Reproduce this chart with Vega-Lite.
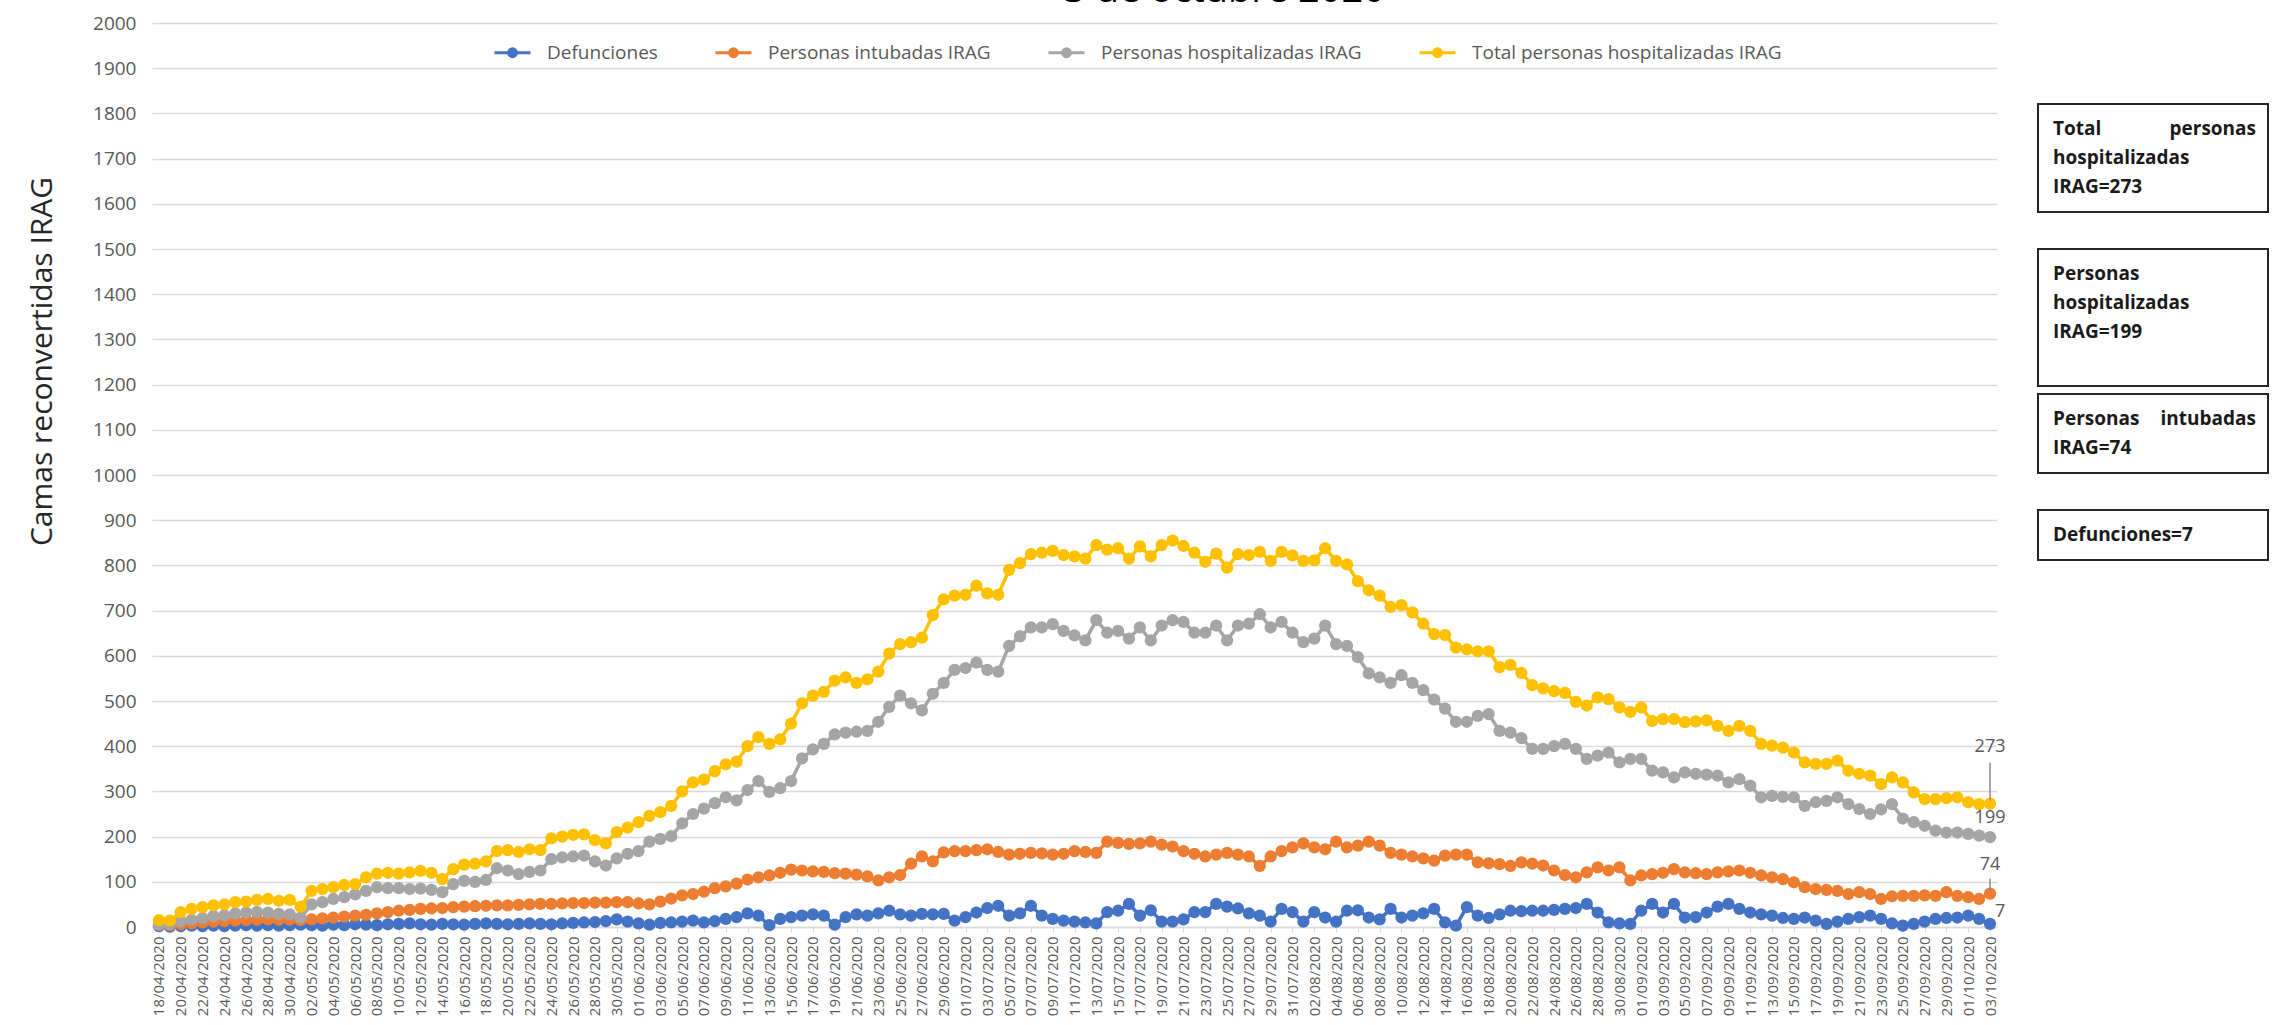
{
"$schema":"https://vega.github.io/schema/vega-lite/v6.json",
"width":1845,"height":904,
"autosize":{"type":"none"},
"padding":{"left":152,"top":23,"right":275,"bottom":98},
"background":"white",
"title":{"text":"3 de octubre 2020","font":"Open Sans","fontSize":38,"fontWeight":"normal","color":"#000000","anchor":"middle","offset":4,"dx":150},
"config":{"view":{"stroke":null},"font":"Open Sans"},
"datasets":{
"defunciones":[
{"fecha":"18/04/2020","valor":2},{"fecha":"19/04/2020","valor":1},{"fecha":"20/04/2020","valor":2},{"fecha":"21/04/2020","valor":3},{"fecha":"22/04/2020","valor":2},{"fecha":"23/04/2020","valor":3},{"fecha":"24/04/2020","valor":2},{"fecha":"25/04/2020","valor":3},{"fecha":"26/04/2020","valor":4},{"fecha":"27/04/2020","valor":3},{"fecha":"28/04/2020","valor":4},{"fecha":"29/04/2020","valor":3},{"fecha":"30/04/2020","valor":4},
{"fecha":"01/05/2020","valor":5},{"fecha":"02/05/2020","valor":4},{"fecha":"03/05/2020","valor":3},{"fecha":"04/05/2020","valor":5},{"fecha":"05/05/2020","valor":4},{"fecha":"06/05/2020","valor":6},{"fecha":"07/05/2020","valor":5},{"fecha":"08/05/2020","valor":4},{"fecha":"09/05/2020","valor":6},{"fecha":"10/05/2020","valor":7},{"fecha":"11/05/2020","valor":8},{"fecha":"12/05/2020","valor":6},{"fecha":"13/05/2020","valor":5},{"fecha":"14/05/2020","valor":7},{"fecha":"15/05/2020","valor":6},{"fecha":"16/05/2020","valor":5},{"fecha":"17/05/2020","valor":7},{"fecha":"18/05/2020","valor":8},{"fecha":"19/05/2020","valor":7},{"fecha":"20/05/2020","valor":6},{"fecha":"21/05/2020","valor":7},{"fecha":"22/05/2020","valor":8},{"fecha":"23/05/2020","valor":7},{"fecha":"24/05/2020","valor":6},{"fecha":"25/05/2020","valor":8},{"fecha":"26/05/2020","valor":9},{"fecha":"27/05/2020","valor":10},{"fecha":"28/05/2020","valor":11},{"fecha":"29/05/2020","valor":13},{"fecha":"30/05/2020","valor":17},{"fecha":"31/05/2020","valor":12},
{"fecha":"01/06/2020","valor":8},{"fecha":"02/06/2020","valor":5},{"fecha":"03/06/2020","valor":9},{"fecha":"04/06/2020","valor":10},{"fecha":"05/06/2020","valor":12},{"fecha":"06/06/2020","valor":14},{"fecha":"07/06/2020","valor":10},{"fecha":"08/06/2020","valor":13},{"fecha":"09/06/2020","valor":18},{"fecha":"10/06/2020","valor":22},{"fecha":"11/06/2020","valor":30},{"fecha":"12/06/2020","valor":25},{"fecha":"13/06/2020","valor":4},{"fecha":"14/06/2020","valor":18},{"fecha":"15/06/2020","valor":22},{"fecha":"16/06/2020","valor":25},{"fecha":"17/06/2020","valor":28},{"fecha":"18/06/2020","valor":25},{"fecha":"19/06/2020","valor":5},{"fecha":"20/06/2020","valor":22},{"fecha":"21/06/2020","valor":28},{"fecha":"22/06/2020","valor":25},{"fecha":"23/06/2020","valor":30},{"fecha":"24/06/2020","valor":36},{"fecha":"25/06/2020","valor":28},{"fecha":"26/06/2020","valor":25},{"fecha":"27/06/2020","valor":29},{"fecha":"28/06/2020","valor":28},{"fecha":"29/06/2020","valor":29},{"fecha":"30/06/2020","valor":14},
{"fecha":"01/07/2020","valor":22},{"fecha":"02/07/2020","valor":32},{"fecha":"03/07/2020","valor":42},{"fecha":"04/07/2020","valor":47},{"fecha":"05/07/2020","valor":25},{"fecha":"06/07/2020","valor":30},{"fecha":"07/07/2020","valor":47},{"fecha":"08/07/2020","valor":25},{"fecha":"09/07/2020","valor":18},{"fecha":"10/07/2020","valor":14},{"fecha":"11/07/2020","valor":12},{"fecha":"12/07/2020","valor":10},{"fecha":"13/07/2020","valor":8},{"fecha":"14/07/2020","valor":33},{"fecha":"15/07/2020","valor":36},{"fecha":"16/07/2020","valor":51},{"fecha":"17/07/2020","valor":25},{"fecha":"18/07/2020","valor":37},{"fecha":"19/07/2020","valor":12},{"fecha":"20/07/2020","valor":12},{"fecha":"21/07/2020","valor":17},{"fecha":"22/07/2020","valor":33},{"fecha":"23/07/2020","valor":33},{"fecha":"24/07/2020","valor":51},{"fecha":"25/07/2020","valor":45},{"fecha":"26/07/2020","valor":41},{"fecha":"27/07/2020","valor":30},{"fecha":"28/07/2020","valor":25},{"fecha":"29/07/2020","valor":12},{"fecha":"30/07/2020","valor":40},{"fecha":"31/07/2020","valor":33},
{"fecha":"01/08/2020","valor":12},{"fecha":"02/08/2020","valor":33},{"fecha":"03/08/2020","valor":21},{"fecha":"04/08/2020","valor":12},{"fecha":"05/08/2020","valor":36},{"fecha":"06/08/2020","valor":37},{"fecha":"07/08/2020","valor":21},{"fecha":"08/08/2020","valor":17},{"fecha":"09/08/2020","valor":40},{"fecha":"10/08/2020","valor":21},{"fecha":"11/08/2020","valor":25},{"fecha":"12/08/2020","valor":30},{"fecha":"13/08/2020","valor":40},{"fecha":"14/08/2020","valor":10},{"fecha":"15/08/2020","valor":3},{"fecha":"16/08/2020","valor":44},{"fecha":"17/08/2020","valor":25},{"fecha":"18/08/2020","valor":20},{"fecha":"19/08/2020","valor":28},{"fecha":"20/08/2020","valor":36},{"fecha":"21/08/2020","valor":35},{"fecha":"22/08/2020","valor":36},{"fecha":"23/08/2020","valor":36},{"fecha":"24/08/2020","valor":38},{"fecha":"25/08/2020","valor":40},{"fecha":"26/08/2020","valor":42},{"fecha":"27/08/2020","valor":51},{"fecha":"28/08/2020","valor":32},{"fecha":"29/08/2020","valor":10},{"fecha":"30/08/2020","valor":8},{"fecha":"31/08/2020","valor":7},
{"fecha":"01/09/2020","valor":36},{"fecha":"02/09/2020","valor":51},{"fecha":"03/09/2020","valor":32},{"fecha":"04/09/2020","valor":51},{"fecha":"05/09/2020","valor":21},{"fecha":"06/09/2020","valor":22},{"fecha":"07/09/2020","valor":32},{"fecha":"08/09/2020","valor":45},{"fecha":"09/09/2020","valor":51},{"fecha":"10/09/2020","valor":40},{"fecha":"11/09/2020","valor":32},{"fecha":"12/09/2020","valor":28},{"fecha":"13/09/2020","valor":25},{"fecha":"14/09/2020","valor":20},{"fecha":"15/09/2020","valor":18},{"fecha":"16/09/2020","valor":21},{"fecha":"17/09/2020","valor":14},{"fecha":"18/09/2020","valor":7},{"fecha":"19/09/2020","valor":12},{"fecha":"20/09/2020","valor":18},{"fecha":"21/09/2020","valor":22},{"fecha":"22/09/2020","valor":25},{"fecha":"23/09/2020","valor":18},{"fecha":"24/09/2020","valor":8},{"fecha":"25/09/2020","valor":3},{"fecha":"26/09/2020","valor":7},{"fecha":"27/09/2020","valor":12},{"fecha":"28/09/2020","valor":18},{"fecha":"29/09/2020","valor":20},{"fecha":"30/09/2020","valor":21},
{"fecha":"01/10/2020","valor":25},{"fecha":"02/10/2020","valor":18},{"fecha":"03/10/2020","valor":7}
],
"intubadas":[
{"fecha":"18/04/2020","valor":5},{"fecha":"19/04/2020","valor":4},{"fecha":"20/04/2020","valor":6},{"fecha":"21/04/2020","valor":8},{"fecha":"22/04/2020","valor":10},{"fecha":"23/04/2020","valor":12},{"fecha":"24/04/2020","valor":13},{"fecha":"25/04/2020","valor":14},{"fecha":"26/04/2020","valor":15},{"fecha":"27/04/2020","valor":16},{"fecha":"28/04/2020","valor":17},{"fecha":"29/04/2020","valor":16},{"fecha":"30/04/2020","valor":16},
{"fecha":"01/05/2020","valor":15},{"fecha":"02/05/2020","valor":17},{"fecha":"03/05/2020","valor":19},{"fecha":"04/05/2020","valor":21},{"fecha":"05/05/2020","valor":23},{"fecha":"06/05/2020","valor":25},{"fecha":"07/05/2020","valor":27},{"fecha":"08/05/2020","valor":30},{"fecha":"09/05/2020","valor":33},{"fecha":"10/05/2020","valor":36},{"fecha":"11/05/2020","valor":38},{"fecha":"12/05/2020","valor":40},{"fecha":"13/05/2020","valor":41},{"fecha":"14/05/2020","valor":42},{"fecha":"15/05/2020","valor":44},{"fecha":"16/05/2020","valor":45},{"fecha":"17/05/2020","valor":46},{"fecha":"18/05/2020","valor":47},{"fecha":"19/05/2020","valor":48},{"fecha":"20/05/2020","valor":48},{"fecha":"21/05/2020","valor":49},{"fecha":"22/05/2020","valor":50},{"fecha":"23/05/2020","valor":51},{"fecha":"24/05/2020","valor":51},{"fecha":"25/05/2020","valor":52},{"fecha":"26/05/2020","valor":53},{"fecha":"27/05/2020","valor":53},{"fecha":"28/05/2020","valor":54},{"fecha":"29/05/2020","valor":54},{"fecha":"30/05/2020","valor":55},{"fecha":"31/05/2020","valor":55},
{"fecha":"01/06/2020","valor":52},{"fecha":"02/06/2020","valor":50},{"fecha":"03/06/2020","valor":56},{"fecha":"04/06/2020","valor":63},{"fecha":"05/06/2020","valor":70},{"fecha":"06/06/2020","valor":73},{"fecha":"07/06/2020","valor":78},{"fecha":"08/06/2020","valor":86},{"fecha":"09/06/2020","valor":90},{"fecha":"10/06/2020","valor":96},{"fecha":"11/06/2020","valor":105},{"fecha":"12/06/2020","valor":110},{"fecha":"13/06/2020","valor":114},{"fecha":"14/06/2020","valor":120},{"fecha":"15/06/2020","valor":127},{"fecha":"16/06/2020","valor":125},{"fecha":"17/06/2020","valor":123},{"fecha":"18/06/2020","valor":122},{"fecha":"19/06/2020","valor":119},{"fecha":"20/06/2020","valor":118},{"fecha":"21/06/2020","valor":116},{"fecha":"22/06/2020","valor":112},{"fecha":"23/06/2020","valor":103},{"fecha":"24/06/2020","valor":110},{"fecha":"25/06/2020","valor":115},{"fecha":"26/06/2020","valor":140},{"fecha":"27/06/2020","valor":156},{"fecha":"28/06/2020","valor":145},{"fecha":"29/06/2020","valor":165},{"fecha":"30/06/2020","valor":168},
{"fecha":"01/07/2020","valor":168},{"fecha":"02/07/2020","valor":170},{"fecha":"03/07/2020","valor":172},{"fecha":"04/07/2020","valor":166},{"fecha":"05/07/2020","valor":160},{"fecha":"06/07/2020","valor":162},{"fecha":"07/07/2020","valor":164},{"fecha":"08/07/2020","valor":163},{"fecha":"09/07/2020","valor":160},{"fecha":"10/07/2020","valor":162},{"fecha":"11/07/2020","valor":168},{"fecha":"12/07/2020","valor":166},{"fecha":"13/07/2020","valor":164},{"fecha":"14/07/2020","valor":189},{"fecha":"15/07/2020","valor":186},{"fecha":"16/07/2020","valor":184},{"fecha":"17/07/2020","valor":185},{"fecha":"18/07/2020","valor":189},{"fecha":"19/07/2020","valor":182},{"fecha":"20/07/2020","valor":178},{"fecha":"21/07/2020","valor":168},{"fecha":"22/07/2020","valor":162},{"fecha":"23/07/2020","valor":156},{"fecha":"24/07/2020","valor":160},{"fecha":"25/07/2020","valor":164},{"fecha":"26/07/2020","valor":160},{"fecha":"27/07/2020","valor":156},{"fecha":"28/07/2020","valor":135},{"fecha":"29/07/2020","valor":156},{"fecha":"30/07/2020","valor":168},{"fecha":"31/07/2020","valor":176},
{"fecha":"01/08/2020","valor":185},{"fecha":"02/08/2020","valor":176},{"fecha":"03/08/2020","valor":172},{"fecha":"04/08/2020","valor":189},{"fecha":"05/08/2020","valor":176},{"fecha":"06/08/2020","valor":180},{"fecha":"07/08/2020","valor":189},{"fecha":"08/08/2020","valor":180},{"fecha":"09/08/2020","valor":164},{"fecha":"10/08/2020","valor":160},{"fecha":"11/08/2020","valor":156},{"fecha":"12/08/2020","valor":152},{"fecha":"13/08/2020","valor":147},{"fecha":"14/08/2020","valor":158},{"fecha":"15/08/2020","valor":160},{"fecha":"16/08/2020","valor":160},{"fecha":"17/08/2020","valor":143},{"fecha":"18/08/2020","valor":141},{"fecha":"19/08/2020","valor":139},{"fecha":"20/08/2020","valor":135},{"fecha":"21/08/2020","valor":143},{"fecha":"22/08/2020","valor":140},{"fecha":"23/08/2020","valor":136},{"fecha":"24/08/2020","valor":125},{"fecha":"25/08/2020","valor":115},{"fecha":"26/08/2020","valor":110},{"fecha":"27/08/2020","valor":121},{"fecha":"28/08/2020","valor":132},{"fecha":"29/08/2020","valor":125},{"fecha":"30/08/2020","valor":132},{"fecha":"31/08/2020","valor":103},
{"fecha":"01/09/2020","valor":114},{"fecha":"02/09/2020","valor":117},{"fecha":"03/09/2020","valor":120},{"fecha":"04/09/2020","valor":128},{"fecha":"05/09/2020","valor":121},{"fecha":"06/09/2020","valor":119},{"fecha":"07/09/2020","valor":117},{"fecha":"08/09/2020","valor":121},{"fecha":"09/09/2020","valor":123},{"fecha":"10/09/2020","valor":125},{"fecha":"11/09/2020","valor":120},{"fecha":"12/09/2020","valor":114},{"fecha":"13/09/2020","valor":110},{"fecha":"14/09/2020","valor":106},{"fecha":"15/09/2020","valor":99},{"fecha":"16/09/2020","valor":88},{"fecha":"17/09/2020","valor":84},{"fecha":"18/09/2020","valor":82},{"fecha":"19/09/2020","valor":80},{"fecha":"20/09/2020","valor":73},{"fecha":"21/09/2020","valor":77},{"fecha":"22/09/2020","valor":73},{"fecha":"23/09/2020","valor":62},{"fecha":"24/09/2020","valor":68},{"fecha":"25/09/2020","valor":69},{"fecha":"26/09/2020","valor":69},{"fecha":"27/09/2020","valor":70},{"fecha":"28/09/2020","valor":69},{"fecha":"29/09/2020","valor":77},{"fecha":"30/09/2020","valor":69},
{"fecha":"01/10/2020","valor":66},{"fecha":"02/10/2020","valor":62},{"fecha":"03/10/2020","valor":74}
],
"hospitalizadas":[
{"fecha":"18/04/2020","valor":5},{"fecha":"19/04/2020","valor":6},{"fecha":"20/04/2020","valor":13},{"fecha":"21/04/2020","valor":16},{"fecha":"22/04/2020","valor":20},{"fecha":"23/04/2020","valor":24},{"fecha":"24/04/2020","valor":26},{"fecha":"25/04/2020","valor":30},{"fecha":"26/04/2020","valor":32},{"fecha":"27/04/2020","valor":33},{"fecha":"28/04/2020","valor":32},{"fecha":"29/04/2020","valor":29},{"fecha":"30/04/2020","valor":28},
{"fecha":"01/05/2020","valor":21},{"fecha":"02/05/2020","valor":50},{"fecha":"03/05/2020","valor":55},{"fecha":"04/05/2020","valor":62},{"fecha":"05/05/2020","valor":66},{"fecha":"06/05/2020","valor":72},{"fecha":"07/05/2020","valor":80},{"fecha":"08/05/2020","valor":88},{"fecha":"09/05/2020","valor":86},{"fecha":"10/05/2020","valor":86},{"fecha":"11/05/2020","valor":84},{"fecha":"12/05/2020","valor":85},{"fecha":"13/05/2020","valor":82},{"fecha":"14/05/2020","valor":77},{"fecha":"15/05/2020","valor":95},{"fecha":"16/05/2020","valor":102},{"fecha":"17/05/2020","valor":100},{"fecha":"18/05/2020","valor":104},{"fecha":"19/05/2020","valor":130},{"fecha":"20/05/2020","valor":125},{"fecha":"21/05/2020","valor":117},{"fecha":"22/05/2020","valor":122},{"fecha":"23/05/2020","valor":125},{"fecha":"24/05/2020","valor":150},{"fecha":"25/05/2020","valor":154},{"fecha":"26/05/2020","valor":156},{"fecha":"27/05/2020","valor":158},{"fecha":"28/05/2020","valor":145},{"fecha":"29/05/2020","valor":136},{"fecha":"30/05/2020","valor":152},{"fecha":"31/05/2020","valor":162},
{"fecha":"01/06/2020","valor":168},{"fecha":"02/06/2020","valor":189},{"fecha":"03/06/2020","valor":195},{"fecha":"04/06/2020","valor":201},{"fecha":"05/06/2020","valor":229},{"fecha":"06/06/2020","valor":250},{"fecha":"07/06/2020","valor":262},{"fecha":"08/06/2020","valor":274},{"fecha":"09/06/2020","valor":287},{"fecha":"10/06/2020","valor":280},{"fecha":"11/06/2020","valor":303},{"fecha":"12/06/2020","valor":323},{"fecha":"13/06/2020","valor":299},{"fecha":"14/06/2020","valor":307},{"fecha":"15/06/2020","valor":323},{"fecha":"16/06/2020","valor":373},{"fecha":"17/06/2020","valor":393},{"fecha":"18/06/2020","valor":405},{"fecha":"19/06/2020","valor":426},{"fecha":"20/06/2020","valor":430},{"fecha":"21/06/2020","valor":432},{"fecha":"22/06/2020","valor":434},{"fecha":"23/06/2020","valor":454},{"fecha":"24/06/2020","valor":487},{"fecha":"25/06/2020","valor":512},{"fecha":"26/06/2020","valor":495},{"fecha":"27/06/2020","valor":479},{"fecha":"28/06/2020","valor":516},{"fecha":"29/06/2020","valor":540},{"fecha":"30/06/2020","valor":569},
{"fecha":"01/07/2020","valor":573},{"fecha":"02/07/2020","valor":585},{"fecha":"03/07/2020","valor":569},{"fecha":"04/07/2020","valor":565},{"fecha":"05/07/2020","valor":622},{"fecha":"06/07/2020","valor":643},{"fecha":"07/07/2020","valor":663},{"fecha":"08/07/2020","valor":663},{"fecha":"09/07/2020","valor":670},{"fecha":"10/07/2020","valor":655},{"fecha":"11/07/2020","valor":645},{"fecha":"12/07/2020","valor":634},{"fecha":"13/07/2020","valor":679},{"fecha":"14/07/2020","valor":651},{"fecha":"15/07/2020","valor":655},{"fecha":"16/07/2020","valor":638},{"fecha":"17/07/2020","valor":663},{"fecha":"18/07/2020","valor":634},{"fecha":"19/07/2020","valor":667},{"fecha":"20/07/2020","valor":679},{"fecha":"21/07/2020","valor":675},{"fecha":"22/07/2020","valor":651},{"fecha":"23/07/2020","valor":651},{"fecha":"24/07/2020","valor":667},{"fecha":"25/07/2020","valor":634},{"fecha":"26/07/2020","valor":667},{"fecha":"27/07/2020","valor":671},{"fecha":"28/07/2020","valor":692},{"fecha":"29/07/2020","valor":663},{"fecha":"30/07/2020","valor":675},{"fecha":"31/07/2020","valor":651},
{"fecha":"01/08/2020","valor":630},{"fecha":"02/08/2020","valor":638},{"fecha":"03/08/2020","valor":667},{"fecha":"04/08/2020","valor":626},{"fecha":"05/08/2020","valor":622},{"fecha":"06/08/2020","valor":597},{"fecha":"07/08/2020","valor":561},{"fecha":"08/08/2020","valor":552},{"fecha":"09/08/2020","valor":540},{"fecha":"10/08/2020","valor":557},{"fecha":"11/08/2020","valor":540},{"fecha":"12/08/2020","valor":524},{"fecha":"13/08/2020","valor":503},{"fecha":"14/08/2020","valor":483},{"fecha":"15/08/2020","valor":454},{"fecha":"16/08/2020","valor":454},{"fecha":"17/08/2020","valor":467},{"fecha":"18/08/2020","valor":471},{"fecha":"19/08/2020","valor":434},{"fecha":"20/08/2020","valor":430},{"fecha":"21/08/2020","valor":418},{"fecha":"22/08/2020","valor":394},{"fecha":"23/08/2020","valor":394},{"fecha":"24/08/2020","valor":400},{"fecha":"25/08/2020","valor":405},{"fecha":"26/08/2020","valor":394},{"fecha":"27/08/2020","valor":372},{"fecha":"28/08/2020","valor":379},{"fecha":"29/08/2020","valor":386},{"fecha":"30/08/2020","valor":364},{"fecha":"31/08/2020","valor":372},
{"fecha":"01/09/2020","valor":372},{"fecha":"02/09/2020","valor":346},{"fecha":"03/09/2020","valor":342},{"fecha":"04/09/2020","valor":331},{"fecha":"05/09/2020","valor":342},{"fecha":"06/09/2020","valor":339},{"fecha":"07/09/2020","valor":337},{"fecha":"08/09/2020","valor":335},{"fecha":"09/09/2020","valor":320},{"fecha":"10/09/2020","valor":327},{"fecha":"11/09/2020","valor":313},{"fecha":"12/09/2020","valor":287},{"fecha":"13/09/2020","valor":290},{"fecha":"14/09/2020","valor":288},{"fecha":"15/09/2020","valor":287},{"fecha":"16/09/2020","valor":268},{"fecha":"17/09/2020","valor":276},{"fecha":"18/09/2020","valor":279},{"fecha":"19/09/2020","valor":287},{"fecha":"20/09/2020","valor":272},{"fecha":"21/09/2020","valor":261},{"fecha":"22/09/2020","valor":250},{"fecha":"23/09/2020","valor":260},{"fecha":"24/09/2020","valor":272},{"fecha":"25/09/2020","valor":240},{"fecha":"26/09/2020","valor":232},{"fecha":"27/09/2020","valor":224},{"fecha":"28/09/2020","valor":213},{"fecha":"29/09/2020","valor":209},{"fecha":"30/09/2020","valor":209},
{"fecha":"01/10/2020","valor":206},{"fecha":"02/10/2020","valor":202},{"fecha":"03/10/2020","valor":199}
],
"total":[
{"fecha":"18/04/2020","valor":15},{"fecha":"19/04/2020","valor":14},{"fecha":"20/04/2020","valor":33},{"fecha":"21/04/2020","valor":40},{"fecha":"22/04/2020","valor":44},{"fecha":"23/04/2020","valor":48},{"fecha":"24/04/2020","valor":50},{"fecha":"25/04/2020","valor":55},{"fecha":"26/04/2020","valor":56},{"fecha":"27/04/2020","valor":60},{"fecha":"28/04/2020","valor":62},{"fecha":"29/04/2020","valor":58},{"fecha":"30/04/2020","valor":60},
{"fecha":"01/05/2020","valor":45},{"fecha":"02/05/2020","valor":80},{"fecha":"03/05/2020","valor":84},{"fecha":"04/05/2020","valor":88},{"fecha":"05/05/2020","valor":93},{"fecha":"06/05/2020","valor":95},{"fecha":"07/05/2020","valor":110},{"fecha":"08/05/2020","valor":118},{"fecha":"09/05/2020","valor":120},{"fecha":"10/05/2020","valor":118},{"fecha":"11/05/2020","valor":121},{"fecha":"12/05/2020","valor":124},{"fecha":"13/05/2020","valor":120},{"fecha":"14/05/2020","valor":106},{"fecha":"15/05/2020","valor":128},{"fecha":"16/05/2020","valor":138},{"fecha":"17/05/2020","valor":140},{"fecha":"18/05/2020","valor":145},{"fecha":"19/05/2020","valor":168},{"fecha":"20/05/2020","valor":170},{"fecha":"21/05/2020","valor":166},{"fecha":"22/05/2020","valor":172},{"fecha":"23/05/2020","valor":170},{"fecha":"24/05/2020","valor":196},{"fecha":"25/05/2020","valor":200},{"fecha":"26/05/2020","valor":204},{"fecha":"27/05/2020","valor":205},{"fecha":"28/05/2020","valor":192},{"fecha":"29/05/2020","valor":185},{"fecha":"30/05/2020","valor":210},{"fecha":"31/05/2020","valor":220},
{"fecha":"01/06/2020","valor":232},{"fecha":"02/06/2020","valor":246},{"fecha":"03/06/2020","valor":254},{"fecha":"04/06/2020","valor":268},{"fecha":"05/06/2020","valor":300},{"fecha":"06/06/2020","valor":320},{"fecha":"07/06/2020","valor":326},{"fecha":"08/06/2020","valor":345},{"fecha":"09/06/2020","valor":360},{"fecha":"10/06/2020","valor":366},{"fecha":"11/06/2020","valor":400},{"fecha":"12/06/2020","valor":420},{"fecha":"13/06/2020","valor":405},{"fecha":"14/06/2020","valor":415},{"fecha":"15/06/2020","valor":450},{"fecha":"16/06/2020","valor":495},{"fecha":"17/06/2020","valor":512},{"fecha":"18/06/2020","valor":520},{"fecha":"19/06/2020","valor":545},{"fecha":"20/06/2020","valor":552},{"fecha":"21/06/2020","valor":540},{"fecha":"22/06/2020","valor":548},{"fecha":"23/06/2020","valor":565},{"fecha":"24/06/2020","valor":605},{"fecha":"25/06/2020","valor":626},{"fecha":"26/06/2020","valor":630},{"fecha":"27/06/2020","valor":640},{"fecha":"28/06/2020","valor":690},{"fecha":"29/06/2020","valor":725},{"fecha":"30/06/2020","valor":733},
{"fecha":"01/07/2020","valor":735},{"fecha":"02/07/2020","valor":755},{"fecha":"03/07/2020","valor":738},{"fecha":"04/07/2020","valor":735},{"fecha":"05/07/2020","valor":790},{"fecha":"06/07/2020","valor":805},{"fecha":"07/07/2020","valor":825},{"fecha":"08/07/2020","valor":828},{"fecha":"09/07/2020","valor":832},{"fecha":"10/07/2020","valor":823},{"fecha":"11/07/2020","valor":820},{"fecha":"12/07/2020","valor":815},{"fecha":"13/07/2020","valor":845},{"fecha":"14/07/2020","valor":835},{"fecha":"15/07/2020","valor":838},{"fecha":"16/07/2020","valor":815},{"fecha":"17/07/2020","valor":842},{"fecha":"18/07/2020","valor":820},{"fecha":"19/07/2020","valor":845},{"fecha":"20/07/2020","valor":855},{"fecha":"21/07/2020","valor":843},{"fecha":"22/07/2020","valor":828},{"fecha":"23/07/2020","valor":808},{"fecha":"24/07/2020","valor":826},{"fecha":"25/07/2020","valor":795},{"fecha":"26/07/2020","valor":825},{"fecha":"27/07/2020","valor":823},{"fecha":"28/07/2020","valor":830},{"fecha":"29/07/2020","valor":810},{"fecha":"30/07/2020","valor":830},{"fecha":"31/07/2020","valor":822},
{"fecha":"01/08/2020","valor":810},{"fecha":"02/08/2020","valor":811},{"fecha":"03/08/2020","valor":838},{"fecha":"04/08/2020","valor":810},{"fecha":"05/08/2020","valor":802},{"fecha":"06/08/2020","valor":765},{"fecha":"07/08/2020","valor":745},{"fecha":"08/08/2020","valor":733},{"fecha":"09/08/2020","valor":708},{"fecha":"10/08/2020","valor":712},{"fecha":"11/08/2020","valor":696},{"fecha":"12/08/2020","valor":671},{"fecha":"13/08/2020","valor":648},{"fecha":"14/08/2020","valor":646},{"fecha":"15/08/2020","valor":618},{"fecha":"16/08/2020","valor":614},{"fecha":"17/08/2020","valor":610},{"fecha":"18/08/2020","valor":610},{"fecha":"19/08/2020","valor":575},{"fecha":"20/08/2020","valor":580},{"fecha":"21/08/2020","valor":562},{"fecha":"22/08/2020","valor":535},{"fecha":"23/08/2020","valor":528},{"fecha":"24/08/2020","valor":522},{"fecha":"25/08/2020","valor":518},{"fecha":"26/08/2020","valor":498},{"fecha":"27/08/2020","valor":490},{"fecha":"28/08/2020","valor":508},{"fecha":"29/08/2020","valor":504},{"fecha":"30/08/2020","valor":486},{"fecha":"31/08/2020","valor":476},
{"fecha":"01/09/2020","valor":486},{"fecha":"02/09/2020","valor":456},{"fecha":"03/09/2020","valor":460},{"fecha":"04/09/2020","valor":460},{"fecha":"05/09/2020","valor":453},{"fecha":"06/09/2020","valor":455},{"fecha":"07/09/2020","valor":457},{"fecha":"08/09/2020","valor":445},{"fecha":"09/09/2020","valor":434},{"fecha":"10/09/2020","valor":445},{"fecha":"11/09/2020","valor":434},{"fecha":"12/09/2020","valor":405},{"fecha":"13/09/2020","valor":401},{"fecha":"14/09/2020","valor":397},{"fecha":"15/09/2020","valor":386},{"fecha":"16/09/2020","valor":364},{"fecha":"17/09/2020","valor":361},{"fecha":"18/09/2020","valor":361},{"fecha":"19/09/2020","valor":368},{"fecha":"20/09/2020","valor":346},{"fecha":"21/09/2020","valor":339},{"fecha":"22/09/2020","valor":335},{"fecha":"23/09/2020","valor":316},{"fecha":"24/09/2020","valor":331},{"fecha":"25/09/2020","valor":320},{"fecha":"26/09/2020","valor":298},{"fecha":"27/09/2020","valor":283},{"fecha":"28/09/2020","valor":283},{"fecha":"29/09/2020","valor":285},{"fecha":"30/09/2020","valor":287},
{"fecha":"01/10/2020","valor":276},{"fecha":"02/10/2020","valor":272},{"fecha":"03/10/2020","valor":273}
],
"cajas":[
{"caja":"A","linea":1,"texto":"Total","lado":"izq"},
{"caja":"A","linea":1,"texto":"personas","lado":"der"},
{"caja":"A","linea":2,"texto":"hospitalizadas","lado":"izq"},
{"caja":"A","linea":3,"texto":"IRAG=273","lado":"izq"},
{"caja":"B","linea":6,"texto":"Personas","lado":"izq"},
{"caja":"B","linea":7,"texto":"hospitalizadas","lado":"izq"},
{"caja":"B","linea":8,"texto":"IRAG=199","lado":"izq"},
{"caja":"B","linea":9,"texto":"","lado":"izq"},
{"caja":"C","linea":11,"texto":"Personas","lado":"izq"},
{"caja":"C","linea":11,"texto":"intubadas","lado":"der"},
{"caja":"C","linea":12,"texto":"IRAG=74","lado":"izq"},
{"caja":"D","linea":15,"texto":"Defunciones=7","lado":"izq"}
]
},
"layer":[
{
"encoding":{
"x":{"field":"fecha","type":"ordinal","sort":null,"scale":{"type":"point","padding":0.64},
"axis":{"title":null,"values":["18/04/2020","20/04/2020","22/04/2020","24/04/2020","26/04/2020","28/04/2020","30/04/2020","02/05/2020","04/05/2020","06/05/2020","08/05/2020","10/05/2020","12/05/2020","14/05/2020","16/05/2020","18/05/2020","20/05/2020","22/05/2020","24/05/2020","26/05/2020","28/05/2020","30/05/2020","01/06/2020","03/06/2020","05/06/2020","07/06/2020","09/06/2020","11/06/2020","13/06/2020","15/06/2020","17/06/2020","19/06/2020","21/06/2020","23/06/2020","25/06/2020","27/06/2020","29/06/2020","01/07/2020","03/07/2020","05/07/2020","07/07/2020","09/07/2020","11/07/2020","13/07/2020","15/07/2020","17/07/2020","19/07/2020","21/07/2020","23/07/2020","25/07/2020","27/07/2020","29/07/2020","31/07/2020","02/08/2020","04/08/2020","06/08/2020","08/08/2020","10/08/2020","12/08/2020","14/08/2020","16/08/2020","18/08/2020","20/08/2020","22/08/2020","24/08/2020","26/08/2020","28/08/2020","30/08/2020","01/09/2020","03/09/2020","05/09/2020","07/09/2020","09/09/2020","11/09/2020","13/09/2020","15/09/2020","17/09/2020","19/09/2020","21/09/2020","23/09/2020","25/09/2020","27/09/2020","29/09/2020","01/10/2020","03/10/2020"],
"labelAngle":270,"labelAlign":"right","labelBaseline":"middle","labelFont":"Open Sans","labelFontSize":15,"labelColor":"#595959","labelPadding":4,"labelOverlap":false,
"ticks":true,"tickSize":5,"tickColor":"#d9d9d9","domain":true,"domainColor":"#d9d9d9","domainWidth":1.5,"grid":false}},
"y":{"field":"valor","type":"quantitative","scale":{"domain":[0,2000],"nice":false},
"axis":{"title":"Camas reconvertidas IRAG","titleFont":"Open Sans","titleFontSize":30,"titleFontWeight":"normal","titleColor":"#262626","titleAngle":270,"titleX":-110,"titleY":338,"titleAlign":"center","titleBaseline":"middle",
"tickCount":20,"format":"d","labelFont":"Open Sans","labelFontSize":19,"labelColor":"#595959","labelPadding":16,"ticks":false,"domain":false,"grid":true,"gridColor":"#d9d9d9","gridWidth":1.5}}
},
"layer":[
{"data":{"name":"defunciones"},
"encoding":{"color":{"datum":"Defunciones","type":"nominal",
"scale":{"domain":["Defunciones","Personas intubadas IRAG","Personas hospitalizadas IRAG","Total personas hospitalizadas IRAG"],"range":["#4472C4","#ED7D31","#A5A5A5","#FFC000"]},
"legend":{"title":null,"orient":"none","legendX":341,"legendY":10,"direction":"horizontal","columns":4,"padding":0,
"symbolType":"M-1,0H1M0.22,0A0.22,0.22 0 1,1 -0.22,0A0.22,0.22 0 1,1 0.22,0M0.08,0A0.08,0.08 0 1,1 -0.08,0A0.08,0.08 0 1,1 0.08,0",
"symbolSize":1296,"symbolStrokeWidth":3,"symbolOffset":0,"labelFont":"Open Sans","labelFontSize":19,"labelColor":"#595959","labelOffset":15,"labelLimit":500,"columnPadding":51}}},
"layer":[{"mark":{"type":"line","strokeWidth":3.5}},{"mark":{"type":"point","filled":true,"size":150,"opacity":1}}]},
{"data":{"name":"intubadas"},
"encoding":{"color":{"datum":"Personas intubadas IRAG","type":"nominal"}},
"layer":[{"mark":{"type":"line","strokeWidth":3.5}},{"mark":{"type":"point","filled":true,"size":150,"opacity":1}}]},
{"data":{"name":"hospitalizadas"},
"encoding":{"color":{"datum":"Personas hospitalizadas IRAG","type":"nominal"}},
"layer":[{"mark":{"type":"line","strokeWidth":3.5}},{"mark":{"type":"point","filled":true,"size":150,"opacity":1}}]},
{"data":{"name":"total"},
"encoding":{"color":{"datum":"Total personas hospitalizadas IRAG","type":"nominal"}},
"layer":[{"mark":{"type":"line","strokeWidth":3.5}},{"mark":{"type":"point","filled":true,"size":150,"opacity":1}}]},
{"data":{"name":"total"},"transform":[{"filter":"datum.fecha == '03/10/2020'"}],
"layer":[
{"mark":{"type":"rule","color":"#8c8c8c","strokeWidth":1.5,"yOffset":-41,"y2Offset":-3},"encoding":{"y2":{"field":"valor"}}},
{"mark":{"type":"text","font":"Open Sans","fontSize":18,"color":"#595959","dy":-57,"baseline":"middle"},"encoding":{"text":{"field":"valor","type":"quantitative"}}}
]},
{"data":{"name":"hospitalizadas"},"transform":[{"filter":"datum.fecha == '03/10/2020'"}],
"mark":{"type":"text","font":"Open Sans","fontSize":18,"color":"#595959","dy":-19,"baseline":"middle"},"encoding":{"text":{"field":"valor","type":"quantitative"}}},
{"data":{"name":"intubadas"},"transform":[{"filter":"datum.fecha == '03/10/2020'"}],
"layer":[
{"mark":{"type":"rule","color":"#8c8c8c","strokeWidth":1.5,"yOffset":-15,"y2Offset":-2},"encoding":{"y2":{"field":"valor"}}},
{"mark":{"type":"text","font":"Open Sans","fontSize":18,"color":"#595959","dy":-29,"baseline":"middle"},"encoding":{"text":{"field":"valor","type":"quantitative"}}}
]},
{"data":{"name":"defunciones"},"transform":[{"filter":"datum.fecha == '03/10/2020'"}],
"mark":{"type":"text","font":"Open Sans","fontSize":18,"color":"#595959","dx":10,"dy":-12,"baseline":"middle"},"encoding":{"text":{"field":"valor","type":"quantitative"}}}
]
},
{
"data":{"name":"cajas"},
"encoding":{
"x":{"datum":0,"type":"quantitative","scale":{"domain":[0,1],"range":[1886,2116]},"axis":null}
},
"layer":[
{"transform":[{"aggregate":[{"op":"min","field":"linea","as":"desde"},{"op":"max","field":"linea","as":"hasta"}],"groupby":["caja"]}],
"mark":{"type":"rect","fill":"white","stroke":"#262626","strokeWidth":2,"yOffset":-25,"y2Offset":25},
"encoding":{"x2":{"datum":1},
"y":{"field":"desde","type":"quantitative","scale":{"domain":[-2.655,28.52],"reverse":true,"nice":false,"zero":false},"axis":null},
"y2":{"field":"hasta"}}},
{"transform":[{"filter":"datum.lado == 'izq'"}],
"mark":{"type":"text","align":"left","baseline":"middle","dx":15,"font":"Open Sans","fontWeight":"bold","fontSize":19,"color":"#1a1a1a"},
"encoding":{"y":{"field":"linea","type":"quantitative"},"text":{"field":"texto"}}},
{"transform":[{"filter":"datum.lado == 'der'"}],
"mark":{"type":"text","align":"right","baseline":"middle","dx":-12,"font":"Open Sans","fontWeight":"bold","fontSize":19,"color":"#1a1a1a"},
"encoding":{"x":{"datum":1,"type":"quantitative"},"y":{"field":"linea","type":"quantitative"},"text":{"field":"texto"}}}
]
}
],
"resolve":{"scale":{"x":"independent","y":"independent"},"axis":{"x":"independent","y":"independent"}}
}
